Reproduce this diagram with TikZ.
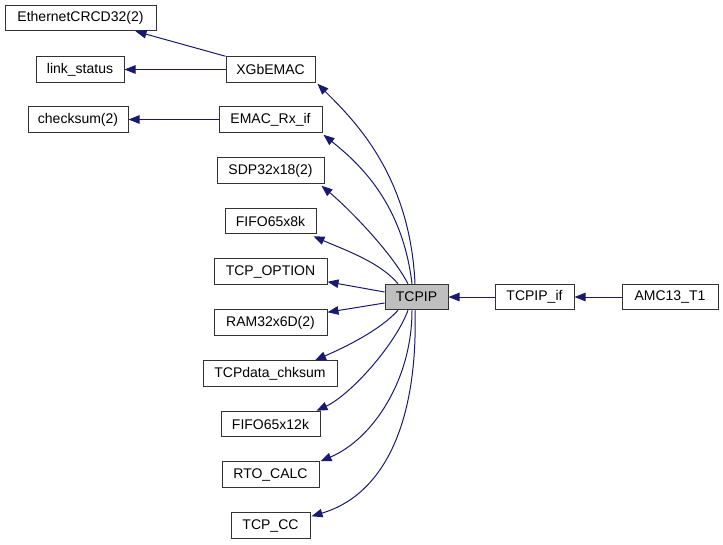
\documentclass[tikz,border=0pt]{standalone}
\usepackage{fontspec}
\setmainfont{Liberation Sans}
\usetikzlibrary{arrows.meta}
\definecolor{edgec}{HTML}{191970}
\definecolor{boxg}{HTML}{BFBFBF}
\begin{document}
\begin{tikzpicture}[x=1pt,y=1pt,
  box/.style={draw=black!80, line width=1pt, fill=white, minimum height=25.5pt, inner sep=0pt, font=\fontsize{14}{16}\selectfont},
  arr/.style={draw=edgec, line width=1pt, -{Triangle[length=11pt,width=8.5pt]}, edgec}]
\useasboundingbox (0,0) rectangle (723,-544);
\node[box, minimum width=151pt] (eth) at (80.5,-18) {EthernetCRCD32(2)};
\node[box, minimum width=88pt] (link) at (80,-69.5) {link\_status};
\node[box, minimum width=89pt] (xgb) at (270.5,-69.5) {XGbEMAC};
\node[box, minimum width=100pt] (chk) at (78,-119.5) {checksum(2)};
\node[box, minimum width=103pt] (emac) at (270.5,-119.5) {EMAC\_Rx\_if};
\node[box, minimum width=107pt] (sdp) at (270.5,-170.5) {SDP32x18(2)};
\node[box, minimum width=91pt] (fifo8) at (270.5,-221) {FIFO65x8k};
\node[box, minimum width=113pt] (opt) at (270.5,-271.5) {TCP\_OPTION};
\node[box, minimum width=63pt, fill=boxg] (tcpip) at (416.5,-297) {TCPIP};
\node[box, minimum width=113pt] (ram) at (270.5,-322.5) {RAM32x6D(2)};
\node[box, minimum width=134pt] (tcpdata) at (270,-373.5) {TCPdata\_chksum};
\node[box, minimum width=99pt] (fifo12) at (270.5,-424) {FIFO65x12k};
\node[box, minimum width=97pt] (rto) at (270.5,-474.5) {RTO\_CALC};
\node[box, minimum width=79pt] (tcpcc) at (270.5,-525.5) {TCP\_CC};
\node[box, minimum width=79pt] (tcpipif) at (534.5,-297) {TCPIP\_if};
\node[box, minimum width=96pt] (amc) at (670,-297) {AMC13\_T1};

\draw[arr] (xgb.north west) -- ([xshift=55pt]eth.south);
\draw[arr] (xgb.west) -- (link.east);
\draw[arr] (emac.west) -- (chk.east);

\draw[arr] ([xshift=-1.5pt]tcpip.north) .. controls +(-5,110) and +(35,-35) .. ([shift={(2pt,-1pt)}]xgb.south east);
\draw[arr] ([xshift=-4.5pt]tcpip.north) .. controls +(-10,84) and +(32,-26) .. ([shift={(1pt,-2pt)}]emac.south east);
\draw[arr] ([xshift=-8.5pt]tcpip.north) .. controls +(-18,34) and +(24,-20) .. ([shift={(-3pt,-2pt)}]sdp.south east);
\draw[arr] ([xshift=-18.5pt]tcpip.north) .. controls +(-18,22) and +(27,-12) .. ([shift={(-3pt,-2pt)}]fifo8.south east);
\draw[arr] ([yshift=5pt]tcpip.west) -- ([yshift=3pt]opt.south east);
\draw[arr] ([yshift=-6pt]tcpip.west) -- ([yshift=-3pt]ram.north east);
\draw[arr] ([xshift=-18.5pt]tcpip.south) .. controls +(-18,-20) and +(30,13) .. ([xshift=45pt]tcpdata.north);
\draw[arr] ([xshift=-8.5pt]tcpip.south) .. controls +(-13,-35) and +(34,16) .. ([xshift=-4pt]fifo12.north east);
\draw[arr] ([xshift=-4.5pt]tcpip.south) .. controls +(0,-70) and +(52,22) .. ([xshift=1pt]rto.north east);
\draw[arr] ([xshift=-1.5pt]tcpip.south) .. controls +(3,-110) and +(74,22) .. ([shift={(1pt,-4pt)}]tcpcc.north east);

\draw[arr] (tcpipif.west) -- (tcpip.east);
\draw[arr] (amc.west) -- (tcpipif.east);
\end{tikzpicture}
\end{document}
